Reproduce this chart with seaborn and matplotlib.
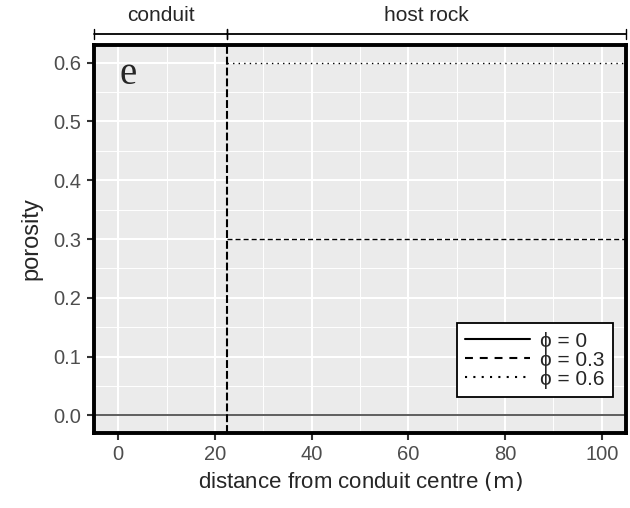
import matplotlib
matplotlib.use("Agg")
import matplotlib.pyplot as plt
from matplotlib.lines import Line2D
from matplotlib.ticker import MultipleLocator
import seaborn as sns
import pandas as pd

# ---- data ----
phi_labels = ["ϕ = 0", "ϕ = 0.3", "ϕ = 0.6"]
x_phi0 = [-5, 105]
y_phi0 = [0.0, 0.0]
x_phi03 = [22.5, 105]
y_phi03 = [0.3, 0.3]
x_phi06 = [22.5, 105]
y_phi06 = [0.6, 0.6]
boundary_x = 22.5
x_ticks = [0, 20, 40, 60, 80, 100]
y_ticks = [0.0, 0.1, 0.2, 0.3, 0.4, 0.5, 0.6]
zone_labels = ["conduit", "host rock"]

df = pd.concat([
    pd.DataFrame({"x": x_phi0, "y": y_phi0, "phi": phi_labels[0]}),
    pd.DataFrame({"x": x_phi03, "y": y_phi03, "phi": phi_labels[1]}),
    pd.DataFrame({"x": x_phi06, "y": y_phi06, "phi": phi_labels[2]}),
])

sns.set_theme(style="darkgrid")
plt.rcParams["font.family"] = ["Liberation Sans", "DejaVu Sans"]

fig = plt.figure(figsize=(6.3, 5.08), dpi=100)
ax = fig.add_axes([94/630, 1-433/508, (626-94)/630, (433-45)/508])
ax.set_facecolor("#EBEBEB")

styles = {phi_labels[0]: "-", phi_labels[1]: (0, (3.6, 2.2)), phi_labels[2]: (0, (1, 3))}
colors = {phi_labels[0]: "#333333", phi_labels[1]: "black", phi_labels[2]: "black"}
widths = {phi_labels[0]: 1.1, phi_labels[1]: 1.0, phi_labels[2]: 1.0}
for lab in phi_labels:
    sub = df[df["phi"] == lab]
    sns.lineplot(data=sub, x="x", y="y", ax=ax, color=colors[lab],
                 linestyle=styles[lab], linewidth=widths[lab], legend=False,
                 estimator=None, sort=False)

ax.axvline(boundary_x, color="black", linestyle=(0, (3.8, 1.4)), linewidth=1.5)

ax.set_xlim(-5, 105)
ax.set_ylim(-0.03, 0.63)
ax.set_xticks(x_ticks)
ax.set_yticks(y_ticks)
ax.set_xticklabels([str(v) for v in x_ticks])
ax.set_yticklabels([f"{v:.1f}" for v in y_ticks])
ax.xaxis.set_minor_locator(MultipleLocator(10))
ax.yaxis.set_minor_locator(MultipleLocator(0.05))
ax.grid(which="major", color="white", linewidth=1.5)
ax.grid(which="minor", color="white", linewidth=0.7)
ax.tick_params(axis="both", which="major", length=5, width=1.5, color="#333333",
               labelsize=14.5, labelcolor="#4D4D4D", pad=4, bottom=True, left=True)
ax.tick_params(which="minor", length=0)
for s in ax.spines.values():
    s.set_visible(True)
    s.set_color("black")
    s.set_linewidth(2.8)

ax.set_xlabel("distance from conduit centre $\\left(\\mathrm{m}\\right)$", fontsize=16, labelpad=4)
ax.set_ylabel("porosity", fontsize=17, labelpad=8)

ax.text(0.047, 0.925, "e", transform=ax.transAxes, fontsize=28,
        family=["Liberation Serif", "DejaVu Serif"], va="center", ha="left")

# top zone brackets
trans = ax.get_xaxis_transform()
yb = 1 + 11/388
for x0, x1, lab in [(-5, boundary_x, zone_labels[0]), (boundary_x, 105, zone_labels[1])]:
    ax.plot([x0, x1], [yb, yb], transform=trans, color="black", lw=1.3, clip_on=False)
    for xe in (x0, x1):
        ax.plot([xe, xe], [yb - 0.012, yb + 0.012], transform=trans, color="black", lw=1.0, clip_on=False)
    ax.text((x0 + x1) / 2, 1 + 30/388, lab, transform=trans, ha="center", va="center",
            fontsize=15, clip_on=False)

leg_styles = {phi_labels[0]: "-", phi_labels[1]: (0, (3.8, 3.3)), phi_labels[2]: (0, (1, 3))}
handles = [Line2D([], [], color="black", linestyle=leg_styles[l], linewidth=1.5) for l in phi_labels]
leg = ax.legend(handles, phi_labels, loc="lower right", bbox_to_anchor=(0.9756, 0.093),
                fontsize=15, frameon=True, fancybox=False, handlelength=3.1,
                labelspacing=0.0, borderpad=0.4, handletextpad=0.5, borderaxespad=0)
leg.get_frame().set_edgecolor("black")
leg.get_frame().set_facecolor("white")
leg.get_frame().set_linewidth(1.3)
leg.get_frame().set_alpha(1)

fig.savefig("out.png", dpi=100)
